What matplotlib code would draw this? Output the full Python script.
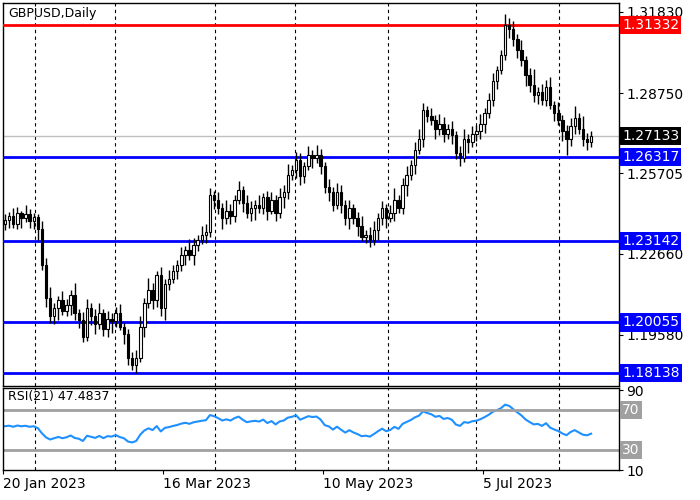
import numpy as np
import matplotlib
matplotlib.use("Agg")
import matplotlib.pyplot as plt
from matplotlib.patches import Rectangle

closes = [1.2395,1.2410,1.2380,1.2420,1.2400,1.2415,1.2390,1.2405,
1.2360,1.2224,1.2100,1.2030,1.2060,1.2090,1.2050,1.2070,1.2110,1.2040,1.2016,1.1950,
1.2060,1.2030,1.2000,1.2040,1.1980,1.2020,1.2010,1.2040,1.1990,1.1960,1.1870,1.1845,
1.1870,1.1990,1.2080,1.2129,1.2090,1.2186,1.2060,1.2150,1.2170,1.2200,1.2224,1.2260,
1.2281,1.2262,1.2300,1.2319,1.2338,1.2350,1.2489,1.2470,1.2440,1.2400,1.2430,1.2410,
1.2470,1.2508,1.2460,1.2420,1.2440,1.2450,1.2440,1.2480,1.2430,1.2470,1.2420,1.2480,
1.2500,1.2565,1.2584,1.2622,1.2560,1.2600,1.2641,1.2630,1.2640,1.2600,1.2520,1.2500,
1.2450,1.2500,1.2450,1.2400,1.2440,1.2400,1.2370,1.2330,1.2338,1.2320,1.2357,1.2400,
1.2440,1.2400,1.2420,1.2470,1.2440,1.2527,1.2565,1.2603,1.2660,1.2700,1.2812,1.2790,
1.2774,1.2740,1.2760,1.2720,1.2740,1.2717,1.2650,1.2630,1.2700,1.2690,1.2720,1.2730,
1.2760,1.2800,1.2850,1.2920,1.2963,1.3020,1.3134,1.3120,1.3080,1.3040,1.3000,1.2944,
1.2906,1.2870,1.2880,1.2850,1.2900,1.2831,1.2800,1.2774,1.2730,1.2700,1.2750,1.2780,
1.2740,1.2700,1.2690,1.27133]
first_open = 1.2380
wick_up = [20,15,30,25,10,35,20,15,10,30,25,40,20,15,35,25,20,45,15,30,
35,20,25,40,15,30,20,25,35,15,20,25,30,40,20,45,25,15,30,20,
35,25,20,30,15,40,25,20,35,30,25,15,30,20,40,25,20,35,15,30,
25,20,40,15,25,30,20,35,25,40,20,30,25,15,35,20,40,25,15,30,
20,35,25,20,30,15,25,40,20,30,35,20,25,15,30,45,20,25,35,20,
30,40,25,15,30,20,35,25,20,30,15,25,40,20,30,25,35,20,25,30,
15,20,40,25,30,20,35,15,25,60,20,30,25,35,15,40,20,25,30,45,
20,50,25,20]
wick_dn = [25,30,15,20,35,15,25,30,40,20,35,25,30,45,15,20,35,25,30,20,
15,35,40,20,25,30,45,20,15,35,25,20,30,15,40,20,35,25,30,45,
20,15,30,25,35,20,40,25,15,30,20,35,25,40,20,30,25,15,35,20,
30,45,20,25,35,15,30,20,40,25,20,30,35,25,15,40,20,30,25,35,
20,15,30,25,40,20,35,15,25,30,20,40,25,35,15,30,20,25,40,20,
35,15,30,25,20,40,25,30,20,35,25,30,15,40,20,25,30,35,20,25,
30,15,20,35,25,30,20,40,25,30,35,20,25,15,30,20,35,60,25,30,
20,25,30,20]
levels_blue = [1.26317, 1.23142, 1.20055, 1.18138]
level_red = 1.31332
price_ticks = [1.31830, 1.28750, 1.25705, 1.22660, 1.19580]
date_labels = ["20 Jan 2023", "16 Mar 2023", "10 May 2023", "5 Jul 2023"]
date_pos = [-0.5, 38.5, 77.5, 116.6]
grid_pos = [7.3, 26.8, 51.2, 70.7, 93.4, 114.9, 135.1]
rsi_period = 21
rsi_seed_gain = 0.0042
rsi_seed_loss = 0.0036

c = np.array(closes)
o = np.concatenate([[first_open], c[:-1]])
h = np.maximum(o, c) + np.array(wick_up) * 1e-4
l = np.minimum(o, c) - np.array(wick_dn) * 1e-4
n = len(c)
idx = np.arange(n)

d = np.diff(np.concatenate([[first_open], c]))
g = np.where(d > 0, d, 0.0); ls = np.where(d < 0, -d, 0.0)
ag = np.zeros(n); al = np.zeros(n)
ag[0] = rsi_seed_gain; al[0] = rsi_seed_loss
for i in range(1, n):
    ag[i] = (ag[i-1]*(rsi_period-1) + g[i]) / rsi_period
    al[i] = (al[i-1]*(rsi_period-1) + ls[i]) / rsi_period
rsi = 100 - 100/(1 + ag/al)

fig = plt.figure(figsize=(7, 5), dpi=100)
ax = fig.add_axes([3/700, 114/500, 616/700, 383/500])
ax2 = fig.add_axes([3/700, 30/500, 616/700, 82/500])
for a in (ax, ax2):
    a.set_xlim(-0.5, 149.8)
    for s in a.spines.values():
        s.set_color("black"); s.set_linewidth(1)
    a.set_xticks([])
    a.yaxis.tick_right()
ax.set_ylim(1.17645, 1.32171)

for gp in grid_pos:
    ax.axvline(gp, color="black", ls=(0, (3, 3)), lw=0.8, zorder=0)
    ax2.axvline(gp, color="black", ls=(0, (3, 3)), lw=0.8, zorder=0)

ax.axhline(closes[-1], color="#c0c0c0", lw=1, zorder=1)
for lv in levels_blue:
    ax.axhline(lv, color="#0000ff", lw=2, zorder=3)
ax.axhline(level_red, color="#ff0000", lw=2, zorder=3)

w = 0.6
for i in range(n):
    ax.vlines(i, l[i], h[i], color="black", lw=1, zorder=4)
    up = c[i] >= o[i]
    ax.add_patch(Rectangle((i - w/2, min(o[i], c[i])), w, max(abs(c[i]-o[i]), 2e-5),
                           facecolor="white" if up else "black", edgecolor="black", lw=0.8, zorder=5))

ax.set_yticks(price_ticks)
ax.set_yticklabels([f"{p:.5f}" for p in price_ticks], fontsize=10)
ax.tick_params(axis="y", length=3, pad=2)

def box(a, y, txt, bg, fg="white"):
    a.text(1.005, y, txt, transform=a.get_yaxis_transform(), ha="left", va="center",
           fontsize=10, color=fg, bbox=dict(boxstyle="square,pad=0.15", fc=bg, ec="none"),
           clip_on=False, zorder=10)
box(ax, level_red, f"{level_red:.5f}", "#ff0000")
box(ax, closes[-1], f"{closes[-1]:.5f}", "black")
for lv in levels_blue:
    box(ax, lv, f"{lv:.5f}", "#0000ff")

ax.text(0.008, 0.99, "GBPUSD,Daily", transform=ax.transAxes, fontsize=9, va="top", ha="left")

ax2.set_ylim(10, 92)
ax2.plot(idx, rsi, color="#1e90ff", lw=1.5)
ax2.axhline(70, color="#a0a0a0", lw=2)
ax2.axhline(30, color="#a0a0a0", lw=2)
ax2.set_yticks([90, 10])
ax2.set_yticklabels(["90", "10"], fontsize=10)
ax2.tick_params(axis="y", length=3, pad=2)
box(ax2, 70, "70", "#a0a0a0", "white")
box(ax2, 30, "30", "#a0a0a0", "white")
ax2.text(0.008, 0.97, "RSI(21) 47.4837", transform=ax2.transAxes, fontsize=9, va="top", ha="left")

ax2.set_xticks(date_pos)
ax2.set_xticklabels(date_labels, fontsize=10, ha="left")
ax2.tick_params(axis="x", length=3, pad=2)

fig.savefig("out.png", dpi=100, facecolor="white")
